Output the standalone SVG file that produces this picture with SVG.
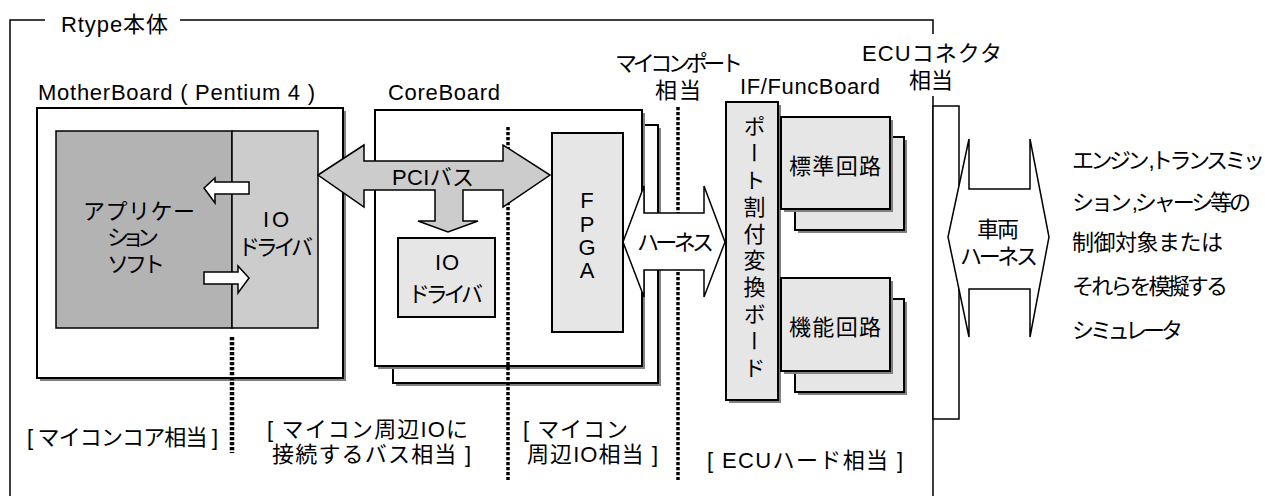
<svg xmlns="http://www.w3.org/2000/svg" width="1265" height="496" viewBox="0 0 1265 496">
  <style>
    text { font-family: "Liberation Sans", "Noto Sans CJK JP", sans-serif; font-size: 22px; fill: #000; }
    .frame { fill: none; stroke: #000; stroke-width: 1.5; }
    .board { fill: #fff; stroke: #000; stroke-width: 2; }
    .part { fill: #e6e6e6; stroke: #000; stroke-width: 2; }
    .shadow { fill: #808080; }
    .app { fill: #b3b3b3; stroke: #000; stroke-width: 1.5; }
    .drv { fill: #cccccc; stroke: #000; stroke-width: 1.5; }
    .conn { fill: #fff; stroke: #000; stroke-width: 1.5; }
    .bus { fill: #cccccc; stroke: #000; stroke-width: 1.5; stroke-linejoin: miter; }
    .wire { fill: #fff; stroke: #000; stroke-width: 1.5; stroke-linejoin: miter; }
    .div { stroke: #000; fill: none; stroke-dasharray: 3.3 1.7; }
    .mid { text-anchor: middle; }
  </style>

  <!-- outer Rtype frame -->
  <g id="rtype-frame">
    <path class="frame" d="M45,20 H10 V496 M180,20 H933 V34 M933,96 V496"/>
    <text x="61" y="32" font-size="21" textLength="107">Rtype本体</text>
  </g>

  <!-- MotherBoard -->
  <g id="motherboard">
    <text x="38" y="100" textLength="277">MotherBoard ( Pentium 4 )</text>
    <rect class="shadow" x="40" y="111" width="306" height="270"/>
    <rect class="board" x="37" y="108" width="306" height="270"/>
    <rect class="app" x="56" y="131" width="176" height="197"/>
    <rect class="drv" x="232" y="131" width="86" height="197"/>
    <text x="83" y="219" font-size="23" textLength="112">アプリケー</text>
    <text x="107" y="245" font-size="23" textLength="52">ション</text>
    <text x="107" y="272" font-size="23" textLength="58">ソフト</text>
    <text x="263" y="227" textLength="26">IO</text>
    <text x="238" y="255" textLength="75">ドライバ</text>
  </g>

  <!-- CoreBoard (two stacked boards) -->
  <g id="coreboard">
    <text x="388" y="100" textLength="112">CoreBoard</text>
    <rect class="shadow" x="396" y="128" width="265" height="258"/>
    <rect class="board" x="393" y="125" width="265" height="258"/>
    <rect class="shadow" x="378" y="113" width="267" height="256"/>
    <rect class="board" x="375" y="110" width="267" height="256"/>
  </g>

  <g id="core-io-driver">
    <rect class="part" x="398" y="238" width="97" height="79"/>
    <text x="435" y="270" textLength="24">IO</text>
    <text x="408" y="302" textLength="75">ドライバ</text>
  </g>

  <g id="fpga">
    <rect class="part" x="552" y="133" width="71" height="199"/>
    <text class="mid" x="587" y="208" font-size="21">F</text>
    <text class="mid" x="587" y="232" font-size="21">P</text>
    <text class="mid" x="587" y="255" font-size="21">G</text>
    <text class="mid" x="587" y="278" font-size="21">A</text>
  </g>

  <!-- IF/FuncBoard -->
  <g id="port-board">
    <text x="740" y="94" textLength="140">IF/FuncBoard</text>
    <rect class="shadow" x="729" y="105" width="52" height="298"/>
    <rect class="part" x="726" y="102" width="52" height="298"/>
    <text x="752" y="115" font-size="23" style="writing-mode: vertical-rl; letter-spacing: 4.8px">ポート割付変換ボード</text>
  </g>

  <g id="standard-circuit">
    <rect class="shadow" x="798" y="140" width="109" height="93"/>
    <rect class="part" x="795" y="137" width="109" height="93"/>
    <rect class="shadow" x="784" y="120" width="109" height="92"/>
    <rect class="part" x="781" y="117" width="109" height="92"/>
    <text x="789" y="174" font-size="23" textLength="92">標準回路</text>
  </g>

  <g id="function-circuit">
    <rect class="shadow" x="798" y="302" width="109" height="93"/>
    <rect class="part" x="795" y="299" width="109" height="93"/>
    <rect class="shadow" x="784" y="281" width="109" height="93"/>
    <rect class="part" x="781" y="278" width="109" height="93"/>
    <text x="789" y="335" font-size="23" textLength="92">機能回路</text>
  </g>

  <!-- ECU connector -->
  <g id="ecu-connector">
    <text x="862" y="61" textLength="140">ECUコネクタ</text>
    <text x="909" y="88" textLength="44">相当</text>
    <rect class="conn" x="933" y="106" width="26" height="313"/>
  </g>

  <!-- controlled plant / simulator -->
  <g id="plant">
    <text x="1072" y="168" textLength="193">エンジン ,トランスミッ</text>
    <text x="1072" y="210" textLength="179">ション ,シャーシ等の</text>
    <text x="1072" y="250" textLength="151">制御対象または</text>
    <text x="1072" y="294" textLength="156">それらを模擬する</text>
    <text x="1072" y="338" textLength="111">シミュレータ</text>
  </g>

  <!-- boundary markers and their labels -->
  <g id="boundaries">
    <line class="div" x1="232" y1="337" x2="232" y2="453" stroke-width="4.5"/>
    <line class="div" x1="508" y1="127" x2="508" y2="480" stroke-width="3.5"/>
    <line class="div" x1="678" y1="107" x2="678" y2="480" stroke-width="3.5"/>
    <text x="615" y="71" textLength="128">マイコンポート</text>
    <text x="655" y="98" textLength="46">相当</text>
    <text x="27" y="445" textLength="191">[ マイコンコア相当 ]</text>
    <text x="267" y="437" textLength="201">[ マイコン周辺IOに</text>
    <text x="272" y="462" textLength="199">接続するバス相当 ]</text>
    <text x="523" y="437" textLength="105">[ マイコン</text>
    <text x="527" y="462" textLength="131">周辺IO相当 ]</text>
    <text x="707" y="468" textLength="196">[ ECUハード相当 ]</text>
  </g>

  <!-- connectors -->
  <g id="connectors">
    <!-- app <-> IO driver -->
    <path class="wire" d="M204,188 L215,178 V182 H249 V194 H215 V203 Z"/>
    <path class="wire" d="M249,278 L238,266 V272 H204 V284 H238 V293 Z"/>
    <!-- PCI bus -->
    <path class="bus" d="M318,175 L364,145 V161 H503 V145 L550,175 L503,207 V190 H463 V221 H478 L448,232 L418,221 H435 V190 H364 V207 Z"/>
    <text x="392" y="185" font-size="21" textLength="82">PCIバス</text>
    <!-- harness FPGA <-> port board -->
    <path class="wire" d="M623,242 L644,186 V213 H704 V186 L725,242 L704,297 V270 H644 V297 Z"/>
    <text x="637" y="250" textLength="77">ハーネス</text>
    <!-- vehicle harness -->
    <path class="wire" d="M948,237 L969,139 V189 H1030 V139 L1049,237 L1030,337 V289 H969 V337 Z"/>
    <text x="977" y="237" textLength="42">車両</text>
    <text x="960" y="264" textLength="78">ハーネス</text>
  </g>
</svg>
